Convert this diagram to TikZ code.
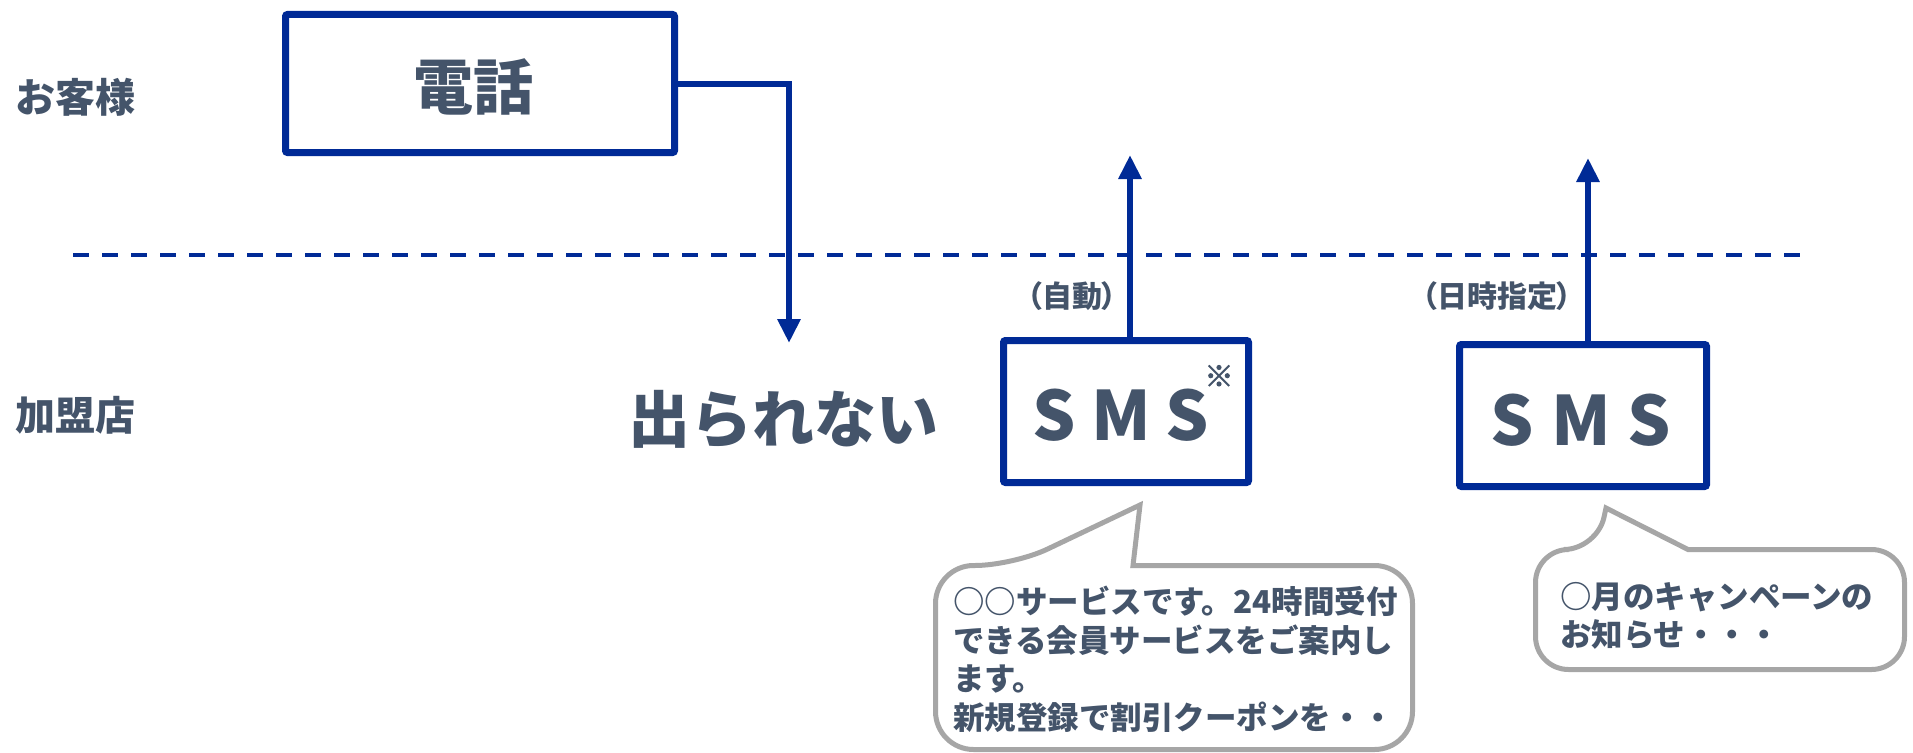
\documentclass[tikz,border=0pt]{standalone}
\usepackage{fontspec}
\setmainfont{Noto Sans CJK JP}
\usetikzlibrary{arrows.meta}
\definecolor{myblue}{RGB}{0,42,150}
\definecolor{mytext}{RGB}{68,84,106}
\definecolor{mygray}{RGB}{166,166,166}
\begin{document}
\begin{tikzpicture}[x=1pt,y=-1pt,
  every node/.style={inner sep=0pt, outer sep=0pt, text=mytext},
  bluebox/.style={draw=myblue, line width=7pt, rounded corners=2pt, fill=white},
  conn/.style={draw=myblue, line width=6pt, -{Triangle[width=22pt,length=24pt]}},
  divider/.style={draw=myblue, line width=4pt, dash pattern=on 16pt off 13pt},
  bubble/.style={draw=mygray, line width=5pt, fill=white, line join=miter},
  lane/.style={font=\bfseries\fontsize{40}{48}\selectfont, anchor=base west},
  bigtext/.style={font=\bfseries\fontsize{60}{70}\selectfont, anchor=center},
  smstext/.style={font=\bfseries\fontsize{68}{80}\selectfont, anchor=center},
  btext/.style={font=\bfseries\fontsize{31.5}{38}\selectfont, anchor=base west},
  note/.style={font=\bfseries\fontsize{30}{36}\selectfont\addfontfeature{RawFeature=+palt}, anchor=center},
]
\useasboundingbox (0,0) rectangle (1913,752);

% lanes
\node[lane] (lcust) at (15,112) {お客様};
\node[lane] (lshop) at (15,430) {加盟店};
\draw[divider] (73,255) coordinate (dl) -- (1812,255) coordinate (dr);

% phone
\node[bluebox, minimum width=389pt, minimum height=138pt] (tel) at (480,83.5) {};
\node[bigtext] (telt) at (473,87) {電話};
\coordinate (c1) at (789,343);
\draw[conn] (tel.east) -| (c1);
\node[bigtext, font=\bfseries\fontsize{62}{72}\selectfont] (noans) at (783,419) {出られない};

% SMS 1
\node[bluebox, minimum width=245pt, minimum height=142pt] (sms1) at (1126,411.5) {};
\node[smstext] (sms1t) at (1121,415) {S\hspace{15pt}M\hspace{15pt}S};
\node[font=\fontsize{29}{32}\selectfont\addfontfeature{FakeBold=2.5}] (ast) at (1219,376) {※};
\coordinate (a2) at (1130,155);
\draw[conn] (a2 |- sms1.north) -- (a2);
\node[note] (auto) at (1072,296) {（自動）};

% SMS 2
\node[bluebox, minimum width=247pt, minimum height=142pt] (sms2) at (1583,415.5) {};
\node[smstext] (sms2t) at (1581,420) {S\hspace{17pt}M\hspace{17pt}S};
\coordinate (a3) at (1588,158);
\draw[conn] (a3 |- sms2.north) -- (a3);
\node[note] (sched) at (1497,296) {（日時指定）};

% bubble 1
\draw[bubble] (1200,565.5) [rounded corners=38pt] -- (1412.5,565.5) -- (1412.5,749.5) -- (935.5,749.5) -- (935.5,565.5) -- (1013,565.5) [sharp corners] -- (1140,505) -- (1133,565.5) -- cycle;
\node[btext] (b1l1) at (953,613) {○○サービスです。24時間受付};
\node[btext] (b1l2) at (953,652) {できる会員サービスをご案内し};
\node[btext] (b1l3) at (953,690.5) {ます。};
\node[btext] (b1l4) at (953,729) {新規登録で割引クーポンを・・};

% bubble 2
\draw[bubble] (1800,549.5) [rounded corners=33pt] -- (1904.5,549.5) -- (1904.5,669.5) -- (1535.5,669.5) -- (1535.5,549.5) -- (1597,549.5) [sharp corners] -- (1606,508) -- (1688,549.5) -- cycle;
\node[btext] (b2l1) at (1560,608) {○月のキャンペーンの};
\node[btext] (b2l2) at (1560,646) {お知らせ・・・};
\end{tikzpicture}
\end{document}
